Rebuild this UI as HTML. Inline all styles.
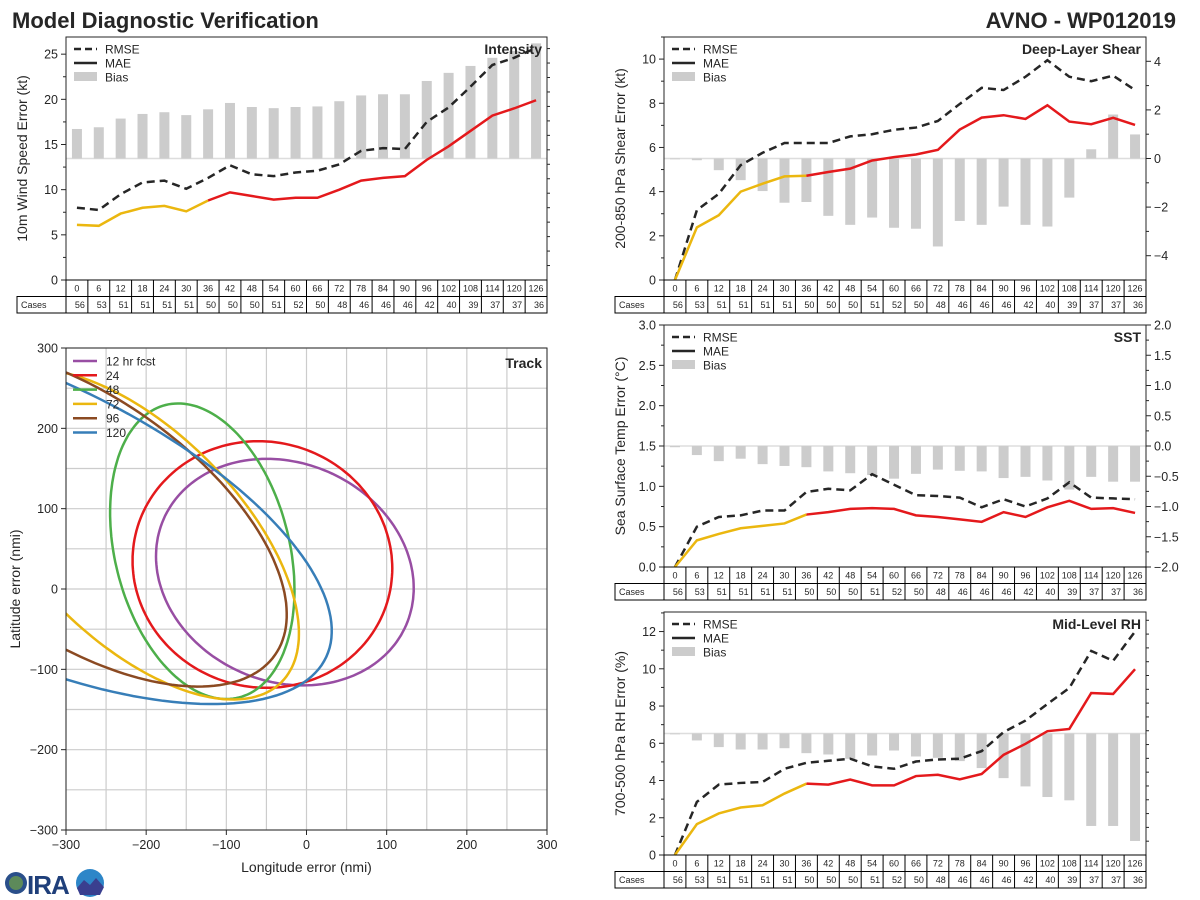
<!DOCTYPE html>
<html><head><meta charset="utf-8"><style>
html,body{margin:0;padding:0;background:#fff;}
svg{display:block;font-family:"Liberation Sans","DejaVu Sans",sans-serif;}
</style></head><body>
<svg id="root" width="1200" height="900" viewBox="0 0 1200 900" xmlns="http://www.w3.org/2000/svg">
<defs>
<clipPath id="trackClip"><rect x="66" y="348" width="481" height="482"/></clipPath>
</defs>
<text x="12" y="28" font-size="22" font-weight="bold" fill="#262626">Model Diagnostic Verification</text>
<text x="1176" y="28" font-size="22" font-weight="bold" fill="#262626" text-anchor="end">AVNO - WP012019</text>
<g>
<circle cx="16" cy="883" r="11" fill="#2a4f8a"/>
<circle cx="16" cy="883" r="7" fill="#5d8a5a"/>
<text x="27" y="894" font-size="26" font-weight="bold" fill="#1f3f7a" letter-spacing="-1">IRA</text>
<circle cx="90" cy="883" r="14" fill="#2d86c8"/>
<path d="M77 888 L84 880 L90 885 L96 878 L104 887 L100 895 L80 895 Z" fill="#3a3f8f"/>
</g>
</svg>
<script>
const hours=[0,6,12,18,24,30,36,42,48,54,60,66,72,78,84,90,96,102,108,114,120,126];
const cases=[56,53,51,51,51,51,50,50,50,51,52,50,48,46,46,46,42,40,39,37,37,36];
const intRmse=[8.0,7.75,9.5,10.8,11.0,10.1,11.3,12.7,11.7,11.5,11.9,12.1,12.8,14.3,14.6,14.5,17.5,19.1,21.4,23.8,24.6,25.7];
const intMae=[6.1,6.0,7.35,8.0,8.2,7.6,8.8,9.7,9.3,8.9,9.1,9.1,10.0,11.0,11.3,11.5,13.3,14.8,16.5,18.2,19.0,19.9];
const intBias=[5.1,5.4,6.9,7.7,8.0,7.5,8.5,9.6,8.9,8.7,8.9,9.0,9.9,10.9,11.1,11.1,13.4,14.8,16.0,17.4,18.6,19.9];
const shrRmse=[0,3.16,3.9,5.2,5.76,6.2,6.2,6.2,6.5,6.6,6.8,6.9,7.2,7.97,8.7,8.6,9.2,9.95,9.2,9.0,9.25,8.6];
const shrMae=[0,2.38,2.93,4.0,4.36,4.69,4.72,4.89,5.04,5.41,5.56,5.68,5.89,6.81,7.35,7.46,7.29,7.91,7.17,7.05,7.34,7.02];
const shrBias=[-0.02,-0.07,-0.48,-0.89,-1.34,-1.82,-1.79,-2.36,-2.73,-2.43,-2.85,-2.89,-3.62,-2.57,-2.73,-1.98,-2.73,-2.80,-1.61,0.38,1.81,0.99];
const sstRmse=[0,0.50,0.62,0.64,0.70,0.70,0.93,0.97,0.95,1.15,1.02,0.89,0.88,0.86,0.74,0.84,0.75,0.85,1.05,0.86,0.85,0.84];
const sstMae=[0,0.33,0.41,0.48,0.51,0.54,0.65,0.68,0.72,0.73,0.72,0.64,0.62,0.59,0.56,0.68,0.62,0.74,0.82,0.72,0.73,0.67];
const sstBias=[-0.02,-0.15,-0.25,-0.21,-0.30,-0.33,-0.35,-0.42,-0.45,-0.48,-0.54,-0.46,-0.39,-0.41,-0.42,-0.53,-0.51,-0.57,-0.72,-0.51,-0.59,-0.59];
const rhRmse=[0,2.85,3.78,3.87,3.92,4.63,4.95,5.06,5.17,4.76,4.63,5.02,5.13,5.17,5.58,6.6,7.22,8.11,8.97,10.96,10.43,12.0];
const rhMae=[0,1.66,2.23,2.55,2.67,3.3,3.83,3.78,4.05,3.74,3.74,4.24,4.31,4.06,4.35,5.38,5.97,6.65,6.77,8.7,8.65,9.98];
const rhBias=[-0.06,-0.63,-1.23,-1.45,-1.45,-1.33,-1.78,-1.90,-2.29,-1.99,-1.54,-2.08,-2.20,-2.50,-3.13,-4.04,-4.79,-5.75,-6.05,-8.37,-8.37,-9.73];
const trackLabels=["12 hr fcst","24","48","72","96","120"];
const ellCenterX=[-27,-55,-130,-215,-285,-356];
const ellCenterY=[21,30.5,47,68,90,93];
const ellSemiMajor=[165,162.6,187.7,260,300,420];
const ellSemiMinor=[136,152.8,108.8,130,150,172];
const ellAngleDeg=[-23.5,-14.9,-75.9,-45,-35,-25];

const NS="http://www.w3.org/2000/svg";
const root=document.getElementById('root');
function mk(tag,attrs,parent){const e=document.createElementNS(NS,tag);for(const k in attrs)e.setAttribute(k,attrs[k]);(parent||root).appendChild(e);return e;}
const YEL="#ebb70f",RED="#e4191c",DARK="#262626";

function panel(cfg){
  const g=mk('g',{});
  
  
  const x0=cfg.x0,x1=cfg.x1,y0=cfg.y0,y1=cfg.y1,n=hours.length,cw=(x1-x0)/n;
  const xs=i=>x0+cw*(i+0.5);
  const yl=v=>y1-(v-cfg.lmin)/(cfg.lmax-cfg.lmin)*(y1-y0);
  const yr=v=>y1-(v+cfg.rmax)/(2*cfg.rmax)*(y1-y0);
  const zl=mk('line',{x1:x0,x2:x1,y1:yr(0),y2:yr(0),stroke:'#dddddd','stroke-width':1.5},g);
  
  
  cfg.bias.forEach((v,i)=>{
    const a=yr(0),b=yr(v);
    const r=mk('rect',{x:xs(i)-5,width:10,y:Math.min(a,b),height:Math.max(0.8,Math.abs(b-a)),fill:'#cccccc'},g);
    
    
  });
  const rp=cfg.rmse.map((v,i)=>xs(i)+','+yl(v)).join(' ');
  const rl=mk('polyline',{points:rp,fill:'none',stroke:DARK,'stroke-width':2.5,'stroke-dasharray':'8,5'},g);
  
  
  const mp1=cfg.mae.slice(0,7).map((v,i)=>xs(i)+','+yl(v)).join(' ');
  const mp2=cfg.mae.map((v,i)=>i>=6?xs(i)+','+yl(v):null).filter(s=>s).join(' ');
  const m1=mk('polyline',{points:mp1,fill:'none',stroke:YEL,'stroke-width':2.5},g);
  
  
  const m2=mk('polyline',{points:mp2,fill:'none',stroke:RED,'stroke-width':2.5},g);
  
  
  const fr=mk('rect',{x:x0,y:y0,width:x1-x0,height:y1-y0,fill:'none',stroke:DARK,'stroke-width':1},g);
  
  
  for(let v=cfg.lmin;v<=cfg.lmax+1e-9;v+=cfg.lminor){
    const y=yl(v);const major=Math.abs(v/cfg.lstep-Math.round(v/cfg.lstep))<1e-6;
    mk('line',{x1:x0,x2:x0-(major?5:3),y1:y,y2:y,stroke:DARK},g);
    if(major){const t=mk('text',{x:x0-8,y:y+4.5,'font-size':12.5,'text-anchor':'end',fill:DARK},g);t.textContent=cfg.lfmt(v);
      
      }
  }
  for(let v=-cfg.rmax;v<=cfg.rmax+1e-9;v+=cfg.rminor){
    if(Math.abs(v)>cfg.rmax-1e-9&&Math.abs(v/cfg.rstep-Math.round(v/cfg.rstep))>1e-6)continue;
    const y=yr(v);const major=Math.abs(v/cfg.rstep-Math.round(v/cfg.rstep))<1e-6;
    mk('line',{x1:x1,x2:x1+(major?5:3),y1:y,y2:y,stroke:DARK},g);
    if(major){const t=mk('text',{x:x1+8,y:y+4.5,'font-size':12.5,fill:DARK},g);t.textContent=cfg.rfmt(v).replace('-','\u2212');
      
      }
  }
  const yt=mk('text',{x:0,y:0,'font-size':14,'text-anchor':'middle',fill:DARK,transform:`translate(${x0-39},${(y0+y1)/2}) rotate(-90)`},g);
  yt.textContent=cfg.ylabel;
  
  
  const tt=mk('text',{x:x1-5,y:y0+17,'font-size':14,'font-weight':'bold','text-anchor':'end',fill:DARK},g);
  tt.textContent=cfg.title;
  
  
  const lg=mk('g',{},g);
  
  
  const lx=x0+8,ly=y0+12;
  mk('line',{x1:lx,x2:lx+23,y1:ly,y2:ly,stroke:DARK,'stroke-width':2.5,'stroke-dasharray':'7,4'},lg);
  mk('line',{x1:lx,x2:lx+23,y1:ly+14,y2:ly+14,stroke:DARK,'stroke-width':2.5},lg);
  mk('rect',{x:lx,y:ly+23,width:23,height:9,fill:'#cccccc'},lg);
  ['RMSE','MAE','Bias'].forEach((s,k)=>{const t=mk('text',{x:lx+31,y:ly+4.5+14*k,'font-size':12,fill:DARK},lg);t.textContent=s;
    
    });
  const tb=mk('g',{},g);
  
  
  const r1=y1+16.5,r2=y1+33;
  mk('rect',{x:x0,y:y1,width:x1-x0,height:r2-y1,fill:'none',stroke:'#000'},tb);
  mk('rect',{x:x0-49,y:r1,width:49,height:r2-r1,fill:'none',stroke:'#000'},tb);
  mk('line',{x1:x0,x2:x1,y1:r1,y2:r1,stroke:'#000'},tb);
  const cl=mk('text',{x:x0-45,y:r1+11.5,'font-size':9,fill:DARK},tb);cl.textContent='Cases';
  
  
  for(let i=0;i<n;i++){
    if(i>0)mk('line',{x1:x0+cw*i,x2:x0+cw*i,y1:y1,y2:r2,stroke:'#000'},tb);
    const h=mk('text',{x:xs(i),y:y1+11.5,'font-size':9,'text-anchor':'middle',fill:DARK},tb);h.textContent=hours[i];
    
    
    const c=mk('text',{x:x0+cw*(i+1)-3,y:r1+11.5,'font-size':9,'text-anchor':'end',fill:DARK},tb);c.textContent=cases[i];
    
    
  }
}
const f0=v=>String(Math.round(v)),f1=v=>v.toFixed(1);
panel({name:'intensity',x0:66,x1:547,y0:37,y1:280,lmin:0,lmax:26.9,lstep:5,lminor:2.5,rmax:21,rstep:5,rminor:2.5,lfmt:f0,rfmt:f0,ylabel:'10m Wind Speed Error (kt)',title:'Intensity',rmse:intRmse,mae:intMae,bias:intBias});
panel({name:'shear',x0:664,x1:1146,y0:37,y1:280,lmin:0,lmax:11.0,lstep:2,lminor:1,rmax:5,rstep:2,rminor:1,lfmt:f0,rfmt:f0,ylabel:'200-850 hPa Shear Error (kt)',title:'Deep-Layer Shear',rmse:shrRmse,mae:shrMae,bias:shrBias});
panel({name:'sst',x0:664,x1:1146,y0:325,y1:567,lmin:0,lmax:3.0,lstep:0.5,lminor:0.25,rmax:2,rstep:0.5,rminor:0.25,lfmt:f1,rfmt:f1,ylabel:'Sea Surface Temp Error (\u00B0C)',title:'SST',rmse:sstRmse,mae:sstMae,bias:sstBias});
panel({name:'rh',x0:664,x1:1146,y0:612,y1:855,lmin:0,lmax:13.05,lstep:2,lminor:1,rmax:11,rstep:2.5,rminor:1.25,lfmt:f0,rfmt:f1,ylabel:'700-500 hPa RH Error (%)',title:'Mid-Level RH',rmse:rhRmse,mae:rhMae,bias:rhBias});

(function(){
  const g=mk('g',{});
  
  
  const X0=66,X1=547,Y0=348,Y1=830;
  const sx=v=>X0+(v+300)/600*(X1-X0), sy=v=>Y1-(v+300)/600*(Y1-Y0);
  for(let v=-300;v<=300;v+=50){
    const a=mk('line',{x1:sx(v),x2:sx(v),y1:Y0,y2:Y1,stroke:'#cccccc','stroke-width':1.2},g);
    
    
    const b=mk('line',{x1:X0,x2:X1,y1:sy(v),y2:sy(v),stroke:'#cccccc','stroke-width':1.2},g);
    
    
  }
  const cols=['#984ea3','#e4191c','#4daf4a','#ebb70f','#8b4a22','#377eb8'];
  const eg=mk('g',{'clip-path':'url(#trackClip)'},g);
  trackLabels.forEach((lab,si)=>{
    const cx=ellCenterX[si],cy=ellCenterY[si],a=ellSemiMajor[si],b=ellSemiMinor[si],th=ellAngleDeg[si]*Math.PI/180;
    let d='';
    for(let t=0;t<=360;t+=2){const p=t*Math.PI/180;
      const x=cx+a*Math.cos(th)*Math.cos(p)-b*Math.sin(th)*Math.sin(p);
      const y=cy+a*Math.sin(th)*Math.cos(p)+b*Math.cos(th)*Math.sin(p);
      d+=(d?'L':'M')+sx(x).toFixed(1)+' '+sy(y).toFixed(1);}
    const e=mk('path',{d:d+'Z',fill:'none',stroke:cols[si],'stroke-width':2.5},eg);
    
    
  });
  const fr=mk('rect',{x:X0,y:Y0,width:X1-X0,height:Y1-Y0,fill:'none',stroke:DARK},g);
  
  
  for(let v=-300;v<=300;v+=100){
    mk('line',{x1:sx(v),x2:sx(v),y1:Y1,y2:Y1+5,stroke:DARK},g);
    mk('line',{x1:X0,x2:X0-5,y1:sy(v),y2:sy(v),stroke:DARK},g);
    const lab=v<0?'\u2212'+(-v):String(v);
    const tx=mk('text',{x:sx(v),y:Y1+19,'font-size':12.5,'text-anchor':'middle',fill:DARK},g);tx.textContent=lab;
    
    
    const ty=mk('text',{x:X0-8,y:sy(v)+4.5,'font-size':12.5,'text-anchor':'end',fill:DARK},g);ty.textContent=lab;
    
    
  }
  const xt=mk('text',{x:(X0+X1)/2,y:872,'font-size':14,'text-anchor':'middle',fill:DARK},g);xt.textContent='Longitude error (nmi)';
  
  
  const yt=mk('text',{x:0,y:0,'font-size':14,'text-anchor':'middle',fill:DARK,transform:`translate(20,${(Y0+Y1)/2}) rotate(-90)`},g);yt.textContent='Latitude error (nmi)';
  
  
  const tt=mk('text',{x:X1-5,y:Y0+20,'font-size':14,'font-weight':'bold','text-anchor':'end',fill:DARK},g);tt.textContent='Track';
  
  
  const lg=mk('g',{},g);
  
  
  trackLabels.forEach((s,i)=>{const y=Y0+13+14.3*i;
    mk('line',{x1:73,x2:97,y1:y,y2:y,stroke:cols[i],'stroke-width':2.5},lg);
    const t=mk('text',{x:106,y:y+4.5,'font-size':12,fill:DARK},lg);t.textContent=s;
    
    });
})();
</script>
</body></html>
